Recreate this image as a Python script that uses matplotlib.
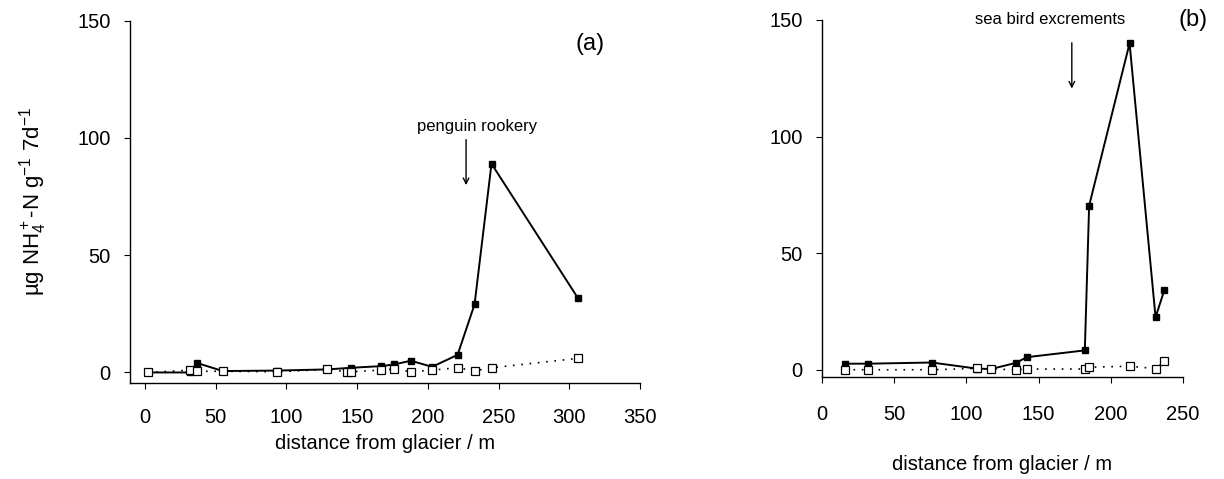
import matplotlib
matplotlib.use("Agg")
import matplotlib.pyplot as plt

plt.rcParams['font.family'] = ['Liberation Sans', 'DejaVu Sans']
plt.rcParams['mathtext.fontset'] = 'custom'
plt.rcParams['mathtext.rm'] = 'Liberation Sans'
plt.rcParams['mathtext.it'] = 'Liberation Sans:italic'
plt.rcParams['mathtext.bf'] = 'Liberation Sans:bold'

# Panel (a)
a_fill_x = [2, 32, 37, 55, 93, 129, 146, 167, 176, 188, 203, 221, 233, 245, 306]
a_fill_y = [0, 0, 4, 0.6, 0.8, 1.3, 2, 2.7, 3.4, 5, 2.4, 7.5, 29, 89, 31.8]
a_open_x = [2, 32, 37, 55, 93, 129, 143, 146, 167, 176, 188, 203, 221, 233, 245, 306]
a_open_y = [0, 1, 0.5, 0.5, 0.3, 1.3, 0.3, 0.3, 1, 1.5, 0.3, 1, 2, 0.7, 2, 6]

# Panel (b)
b_fill_x = [16, 32, 76, 107, 117, 134, 142, 182, 185, 213, 231, 237]
b_fill_y = [2.6, 2.6, 3.1, 0.5, 0.3, 2.9, 5.4, 8.3, 70.4, 140, 22.5, 34]
b_open_x = [16, 32, 76, 107, 117, 134, 142, 182, 185, 213, 231, 237]
b_open_y = [0, 0, 0, 0.6, 0.3, 0, 0.3, 0.3, 1.1, 1.5, 0.5, 3.7]

a_xticks = [0, 50, 100, 150, 200, 250, 300, 350]
b_xticks = [0, 50, 100, 150, 200, 250]
yticks = [0, 50, 100, 150]

fig = plt.figure(figsize=(12.24, 4.79), dpi=100)
axa = fig.add_axes([0.1062, 0.2004, 0.4167, 0.7564])
axb = fig.add_axes([0.6716, 0.213, 0.2949, 0.7453])

def style(ax, xticks, xlim, ylim, xpad, lpad):
    for s in ['top', 'right']:
        ax.spines[s].set_visible(False)
    for s in ['left', 'bottom']:
        ax.spines[s].set_linewidth(1.0)
    ax.set_xlim(*xlim)
    ax.set_ylim(*ylim)
    ax.set_xticks(xticks)
    ax.set_yticks(yticks)
    ax.tick_params(direction='out', length=4, width=0.8, labelsize=14.5)
    ax.tick_params(axis='y', pad=10)
    ax.tick_params(axis='x', pad=xpad)
    ax.set_xlabel('distance from glacier / m', fontsize=14.5, labelpad=lpad)

def draw(ax, fx, fy, ox, oy):
    ax.plot(fx, fy, '-', color='black', lw=1.4, marker='s', ms=5,
            mfc='black', mec='black', zorder=3)
    ax.plot(ox, oy, ls=(0, (1, 4)), color='black', lw=1.2, marker='s', ms=5.5,
            mfc='white', mec='black', mew=0.9, zorder=4)

draw(axa, a_fill_x, a_fill_y, a_open_x, a_open_y)
draw(axb, b_fill_x, b_fill_y, b_open_x, b_open_y)
style(axa, a_xticks, (-10.6, 350), (-4.5, 150), 14, 5)
style(axb, b_xticks, (0, 250), (-3.1, 150), 16.5, 22)

axa.set_ylabel(r'µg NH$_4^+$-N g$^{-1}$ 7d$^{-1}$', fontsize=16, labelpad=20)

axa.text(234.6, 105, 'penguin rookery', ha='center', va='center', fontsize=12)
axa.annotate('', xy=(227, 78.7), xytext=(227, 100.5),
             arrowprops=dict(arrowstyle='->', color='black', lw=1.0))
axa.text(315, 140, '(a)', ha='center', va='center', fontsize=17)

axb.text(158, 150, 'sea bird excrements', ha='center', va='center', fontsize=12,
         clip_on=False)
axb.annotate('', xy=(173, 119.4), xytext=(173, 141.4),
             arrowprops=dict(arrowstyle='->', color='black', lw=1.0))
axb.text(257, 150, '(b)', ha='center', va='center', fontsize=17, clip_on=False)

fig.savefig('out.png', dpi=100)
